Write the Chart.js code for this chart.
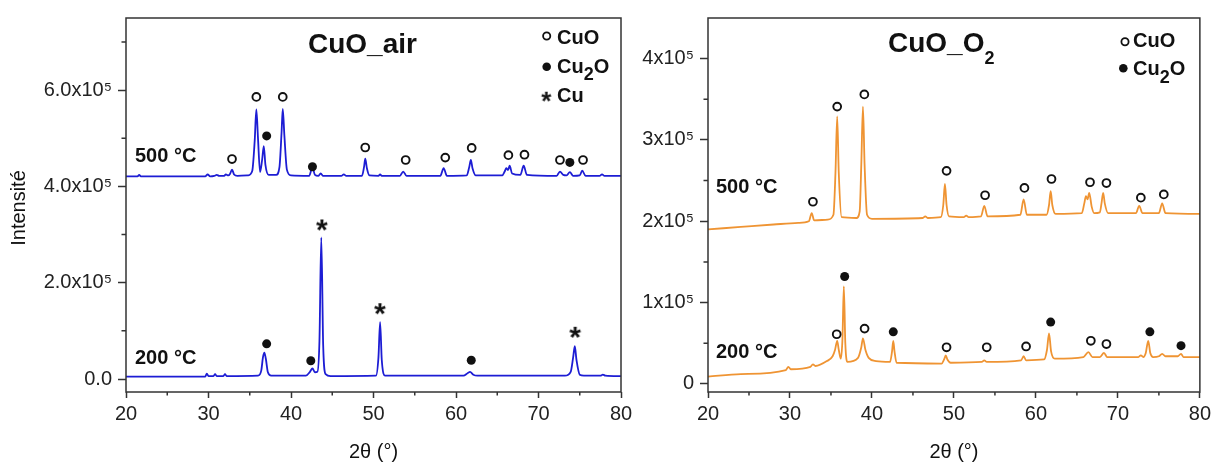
<!DOCTYPE html>
<html><head><meta charset="utf-8">
<script src="https://cdn.jsdelivr.net/npm/chart.js@4/dist/chart.umd.min.js"></script>
<style>
body{margin:0;background:#fff;width:1215px;height:462px;overflow:hidden;position:relative;}
canvas{position:absolute;top:0;}
#c1{left:0;} #c2{left:625px;}
</style></head><body>
<canvas id="c1" width="640" height="462"></canvas>
<canvas id="c2" width="590" height="462"></canvas>
<script>
// ---------- axis ticks ----------
const xTicks = [20, 30, 40, 50, 60, 70, 80];
const xMinor = [25, 35, 45, 55, 65, 75];
const airYTicks = [0, 2e5, 4e5, 6e5];
const airYLabels = ['0.0', '2.0x10⁵', '4.0x10⁵', '6.0x10⁵'];
const airYMinor = [1e5, 3e5, 5e5, 7e5];
const o2YTicks = [0, 1e5, 2e5, 3e5, 4e5];
const o2YLabels = ['0', '1x10⁵', '2x10⁵', '3x10⁵', '4x10⁵'];
const o2YMinor = [0.5e5, 1.5e5, 2.5e5, 3.5e5];

// ---------- CuO_air, 500 °C ----------
const air500 = [[20,4.21e5],[21.4,4.21e5],[21.6,4.24e5],[21.8,4.21e5],[29.6,4.21e5],[29.9,4.25e5],[30.2,4.21e5],
[30.7,4.22e5],[31.0,4.24e5],[31.3,4.22e5],[31.9,4.22e5],[32.1,4.25e5],[32.4,4.23e5],[32.6,4.26e5],[32.85,4.35e5],
[33.1,4.25e5],[33.5,4.22e5],[34.8,4.23e5],[35.3,4.32e5],[35.6,4.95e5],[35.8,5.60e5],[36.0,5.00e5],[36.25,4.30e5],
[36.5,4.55e5],[36.7,4.84e5],[36.9,4.45e5],[37.3,4.24e5],[38.2,4.24e5],[38.6,4.40e5],[38.85,5.10e5],[39.0,5.61e5],
[39.2,5.05e5],[39.5,4.35e5],[40.0,4.23e5],[42.2,4.22e5],[42.6,4.40e5],[42.9,4.24e5],[43.3,4.22e5],[43.6,4.27e5],
[43.9,4.22e5],[46.1,4.22e5],[46.4,4.25e5],[46.7,4.22e5],[48.6,4.22e5],[48.85,4.40e5],[49.0,4.58e5],[49.2,4.38e5],
[49.5,4.23e5],[50.6,4.22e5],[50.8,4.25e5],[51.0,4.22e5],[53.2,4.22e5],[53.6,4.31e5],[54.0,4.22e5],[58.1,4.22e5],
[58.5,4.38e5],[58.9,4.22e5],[61.3,4.23e5],[61.6,4.40e5],[61.8,4.55e5],[62.0,4.38e5],[62.4,4.23e5],[65.6,4.23e5],
[65.9,4.31e5],[66.1,4.38e5],[66.3,4.34e5],[66.5,4.43e5],[66.8,4.27e5],[67.8,4.24e5],[68.2,4.43e5],[68.6,4.24e5],
[72.2,4.22e5],[72.6,4.31e5],[73.0,4.24e5],[73.4,4.23e5],[73.8,4.30e5],[74.2,4.22e5],[75.0,4.23e5],[75.3,4.33e5],
[75.7,4.22e5],[77.4,4.22e5],[77.7,4.25e5],[78.0,4.22e5],[80,4.22e5]];

// ---------- CuO_air, 200 °C ----------
const air200 = [[20,0.05e5],[29.6,0.05e5],[29.8,0.11e5],[30.0,0.06e5],[30.6,0.06e5],[30.8,0.10e5],[31.0,0.06e5],
[31.8,0.06e5],[32.0,0.10e5],[32.2,0.06e5],[36.0,0.07e5],[36.4,0.18e5],[36.6,0.45e5],[36.77,0.55e5],[36.95,0.42e5],
[37.2,0.14e5],[37.6,0.07e5],[41.8,0.07e5],[42.3,0.15e5],[42.6,0.22e5],[42.9,0.14e5],[43.2,0.15e5],[43.45,0.80e5],
[43.67,2.94e5],[43.9,0.70e5],[44.2,0.10e5],[44.8,0.06e5],[50.3,0.07e5],[50.6,0.45e5],[50.8,1.18e5],[51.0,0.40e5],
[51.4,0.07e5],[60.9,0.07e5],[61.4,0.12e5],[61.7,0.15e5],[62.1,0.09e5],[62.6,0.07e5],[73.2,0.07e5],[73.9,0.15e5],
[74.2,0.45e5],[74.4,0.68e5],[74.6,0.40e5],[75.0,0.09e5],[75.5,0.07e5],[77.5,0.07e5],[77.8,0.09e5],[78.1,0.07e5],
[80,0.06e5]];

// ---------- CuO_O2, 500 °C ----------
const o2500 = [[20,1.90e5],[24,1.93e5],[28,1.96e5],[31,1.98e5],[32.3,2.00e5],[32.65,2.10e5],[32.95,2.01e5],
[34.6,2.02e5],[35.3,2.08e5],[35.55,2.60e5],[35.76,3.29e5],[35.95,2.60e5],[36.3,2.05e5],[38.1,2.04e5],[38.5,2.12e5],
[38.7,2.70e5],[38.9,3.41e5],[39.1,2.70e5],[39.4,2.08e5],[40,2.03e5],[46.2,2.04e5],[46.5,2.06e5],[46.8,2.04e5],
[48.4,2.05e5],[48.7,2.20e5],[48.9,2.46e5],[49.1,2.20e5],[49.4,2.06e5],[51.2,2.05e5],[51.5,2.07e5],[51.8,2.05e5],
[53.3,2.06e5],[53.7,2.19e5],[54.1,2.06e5],[58.1,2.08e5],[58.5,2.27e5],[58.9,2.08e5],[61.3,2.08e5],[61.6,2.20e5],
[61.8,2.37e5],[62.0,2.20e5],[62.4,2.09e5],[65.6,2.10e5],[65.9,2.22e5],[66.1,2.31e5],[66.3,2.27e5],[66.5,2.35e5],
[66.8,2.18e5],[67.1,2.10e5],[67.8,2.11e5],[68.0,2.22e5],[68.2,2.35e5],[68.4,2.22e5],[68.8,2.10e5],[72.2,2.10e5],
[72.6,2.19e5],[73.0,2.10e5],[75.0,2.10e5],[75.4,2.22e5],[75.8,2.10e5],[80,2.09e5]];

// ---------- CuO_O2, 200 °C ----------
const o2200 = [[20,0.09e5],[24,0.12e5],[29.5,0.17e5],[29.8,0.21e5],[30.1,0.18e5],[32.5,0.21e5],[32.8,0.24e5],
[33.1,0.22e5],[34.5,0.28e5],[35.2,0.34e5],[35.5,0.42e5],[35.76,0.53e5],[35.95,0.42e5],[36.2,0.31e5],[36.4,0.55e5],
[36.57,1.20e5],[36.75,0.50e5],[37.0,0.27e5],[38.3,0.32e5],[38.7,0.45e5],[38.9,0.56e5],[39.2,0.42e5],[39.6,0.32e5],
[40.5,0.28e5],[42.2,0.27e5],[42.45,0.40e5],[42.6,0.53e5],[42.75,0.40e5],[43.0,0.26e5],[48.5,0.25e5],[48.8,0.30e5],
[49.0,0.35e5],[49.2,0.30e5],[49.6,0.26e5],[53.4,0.27e5],[53.7,0.29e5],[54.0,0.27e5],[58.2,0.29e5],[58.5,0.34e5],
[58.8,0.29e5],[61.0,0.30e5],[61.35,0.42e5],[61.6,0.62e5],[61.85,0.40e5],[62.3,0.31e5],[65.8,0.33e5],[66.4,0.39e5],
[66.9,0.33e5],[67.8,0.33e5],[68.3,0.38e5],[68.7,0.33e5],[72.5,0.33e5],[72.8,0.35e5],[73.1,0.33e5],[73.4,0.38e5],
[73.7,0.53e5],[73.95,0.38e5],[74.3,0.33e5],[75.0,0.34e5],[75.4,0.37e5],[75.8,0.34e5],[77.3,0.34e5],[77.7,0.37e5],
[78.0,0.33e5],[80,0.33e5]];

// ---------- phase markers ----------
const airCuO = [[32.85,4.57e5],[35.8,5.86e5],[39.0,5.86e5],[49.0,4.81e5],[53.9,4.55e5],[58.7,4.60e5],[61.9,4.80e5],
[66.35,4.65e5],[68.3,4.66e5],[72.6,4.55e5],[75.4,4.55e5]];
const airCu2O = [[37.05,5.05e5],[42.6,4.41e5],[73.8,4.50e5],[37.05,0.73e5],[42.4,0.38e5],[61.85,0.39e5]];
const airCu = [[43.76,3.19e5],[50.8,1.45e5],[74.46,0.96e5]];
const o2CuO = [[32.8,2.24e5],[35.76,3.41e5],[39.07,3.56e5],[49.1,2.62e5],[53.8,2.32e5],[58.6,2.41e5],[61.9,2.52e5],
[66.6,2.48e5],[68.6,2.47e5],[72.8,2.29e5],[75.6,2.33e5],
[35.7,0.61e5],[39.1,0.68e5],[49.1,0.45e5],[54.0,0.45e5],[58.8,0.46e5],[66.7,0.53e5],[68.6,0.49e5]];
const o2Cu2O = [[36.67,1.32e5],[42.6,0.64e5],[61.8,0.76e5],[73.9,0.64e5],[77.7,0.47e5]];

// ---------- rendering ----------
const FONT = "'Liberation Sans', Arial, sans-serif";
const INK = '#222';
Chart.defaults.font.family = FONT;

const toPts = a => a.map(p => ({x: p[0], y: p[1]}));

function starImage(size) {
  const c = document.createElement('canvas');
  c.width = 20; c.height = 20;
  const g = c.getContext('2d');
  g.font = 'bold ' + size + 'px ' + FONT;
  g.fillStyle = '#111';
  const m = g.measureText('*');
  const w = m.actualBoundingBoxLeft + m.actualBoundingBoxRight;
  const h = m.actualBoundingBoxAscent + m.actualBoundingBoxDescent;
  g.textBaseline = 'alphabetic';
  g.fillText('*', 10 - w / 2 + m.actualBoundingBoxLeft, 10 - h / 2 + m.actualBoundingBoxAscent);
  return c;
}

function drawParts(ctx, parts, x, y) {
  let cx = x;
  for (const p of parts) {
    ctx.font = p.font + ' ' + FONT;
    ctx.fillText(p.t, cx, y + (p.dy || 0));
    cx += ctx.measureText(p.t).width;
  }
}

function decoPlugin(cfg) {
  return {
    id: 'deco' + cfg.name,
    afterDatasetsDraw(chart) {
      const ctx = chart.ctx, ca = chart.chartArea;
      const xs = chart.scales.x, ys = chart.scales.y;
      ctx.save();
      ctx.strokeStyle = '#333'; ctx.lineWidth = 1.5;
      ctx.strokeRect(ca.left, ca.top, ca.right - ca.left, ca.bottom - ca.top);
      ctx.beginPath();
      for (const v of xMinor) {
        const px = xs.getPixelForValue(v);
        ctx.moveTo(px, ca.bottom); ctx.lineTo(px, ca.bottom + 3.5);
      }
      for (const v of cfg.yMinor) {
        const py = ys.getPixelForValue(v);
        ctx.moveTo(ca.left, py); ctx.lineTo(ca.left - 4.5, py);
      }
      ctx.stroke();
      ctx.fillStyle = '#111';
      ctx.textAlign = 'left'; ctx.textBaseline = 'alphabetic';
      for (const t of cfg.texts) drawParts(ctx, t.parts, t.x, t.y);
      // legend markers
      for (const m of cfg.legend) {
        if (m.type === 'open') {
          ctx.beginPath(); ctx.arc(m.x, m.y, 3.6, 0, Math.PI * 2);
          ctx.lineWidth = 1.8; ctx.strokeStyle = '#111'; ctx.stroke();
        } else if (m.type === 'fill') {
          ctx.beginPath(); ctx.arc(m.x, m.y, 4.3, 0, Math.PI * 2); ctx.fill();
        } else {
          const img = starImage(26);
          ctx.drawImage(img, m.x - 10, m.y - 10);
        }
      }
      // axis titles
      ctx.font = '20px ' + FONT;
      ctx.textAlign = 'center';
      ctx.fillText('2θ (°)', (ca.left + ca.right) / 2, 458);
      if (cfg.yTitle) {
        ctx.translate(19, 208); ctx.rotate(-Math.PI / 2);
        ctx.textBaseline = 'middle';
        ctx.fillText(cfg.yTitle, 0, 0);
      }
      ctx.restore();
    }
  };
}

function makeChart(id, cfg) {
  const datasets = [];
  for (const s of cfg.lines) datasets.push({
    data: toPts(s), showLine: true, borderColor: cfg.color, borderWidth: 1.8,
    pointRadius: 0, cubicInterpolationMode: 'monotone', order: 2
  });
  datasets.push({data: toPts(cfg.open), pointStyle: 'circle', pointRadius: 3.9,
    pointBorderWidth: 1.9, pointBorderColor: '#111', pointBackgroundColor: '#fff', showLine: false, order: 1});
  datasets.push({data: toPts(cfg.fill), pointStyle: 'circle', pointRadius: 4.5,
    pointBorderWidth: 0, pointBorderColor: '#111', pointBackgroundColor: '#111', showLine: false, order: 1});
  if (cfg.star) datasets.push({data: toPts(cfg.star), pointStyle: starImage(30), pointRadius: 8,
    showLine: false, order: 1});
  return new Chart(document.getElementById(id), {
    type: 'scatter',
    data: {datasets},
    options: {
      responsive: false, animation: false, events: [],
      layout: {padding: {left: 0, top: cfg.top, right: cfg.right, bottom: 0}},
      plugins: {legend: {display: false}, tooltip: {enabled: false}},
      scales: {
        x: {
          type: 'linear', position: 'bottom', min: 20, max: 80,
          afterBuildTicks: s => { s.ticks = xTicks.map(v => ({value: v})); },
          afterFit: s => { s.height = 70; },
          grid: {drawOnChartArea: false, drawTicks: true, tickLength: 6, tickWidth: 1.5, tickColor: '#333'},
          border: {display: false},
          ticks: {color: INK, font: {size: 20, family: FONT}, padding: 4, maxRotation: 0, autoSkip: false,
            callback: v => String(v)}
        },
        y: {
          type: 'linear', position: 'left', min: cfg.ymin, max: cfg.ymax,
          afterBuildTicks: s => { s.ticks = cfg.yTicks.map(v => ({value: v})); },
          afterFit: s => { s.width = cfg.yWidth; },
          grid: {drawOnChartArea: false, drawTicks: true, tickLength: 8, tickWidth: 1.5, tickColor: '#333'},
          border: {display: false},
          ticks: {color: INK, font: {size: 20, family: FONT}, padding: 6, autoSkip: false,
            callback: (v, i) => cfg.yLabels[i]}
        }
      }
    },
    plugins: [decoPlugin(cfg)]
  });
}

makeChart('c1', {
  name: 'air', color: '#1d1dd4', lines: [air500, air200], open: airCuO, fill: airCu2O, star: airCu,
  ymin: -27000, ymax: 750000, yTicks: airYTicks, yLabels: airYLabels, yMinor: airYMinor,
  yWidth: 126, top: 15, right: 19, yTitle: 'Intensité',
  texts: [
    {x: 308, y: 53, parts: [{t: 'CuO_air', font: 'bold 28px'}]},
    {x: 557, y: 44, parts: [{t: 'CuO', font: 'bold 20px'}]},
    {x: 557, y: 73, parts: [{t: 'Cu', font: 'bold 20px'}, {t: '2', font: 'bold 18px', dy: 7}, {t: 'O', font: 'bold 20px'}]},
    {x: 557, y: 102, parts: [{t: 'Cu', font: 'bold 20px'}]},
    {x: 135, y: 162, parts: [{t: '500 °C', font: 'bold 20px'}]},
    {x: 135, y: 364, parts: [{t: '200 °C', font: 'bold 20px'}]}
  ],
  legend: [{type: 'open', x: 546.7, y: 36}, {type: 'fill', x: 546.7, y: 66.7}, {type: 'star', x: 546.7, y: 96.7}]
});

makeChart('c2', {
  name: 'o2', color: '#ef9433', lines: [o2500, o2200], open: o2CuO, fill: o2Cu2O, star: null,
  ymin: -10000, ymax: 450000, yTicks: o2YTicks, yLabels: o2YLabels, yMinor: o2YMinor,
  yWidth: 83, top: 14, right: 12, yTitle: null,
  texts: [
    {x: 263, y: 52, parts: [{t: 'CuO_O', font: 'bold 28px'}, {t: '2', font: 'bold 18px', dy: 12}]},
    {x: 508, y: 47, parts: [{t: 'CuO', font: 'bold 20px'}]},
    {x: 508, y: 75, parts: [{t: 'Cu', font: 'bold 20px'}, {t: '2', font: 'bold 18px', dy: 8}, {t: 'O', font: 'bold 20px'}]},
    {x: 91, y: 193, parts: [{t: '500 °C', font: 'bold 20px'}]},
    {x: 91, y: 358, parts: [{t: '200 °C', font: 'bold 20px'}]}
  ],
  legend: [{type: 'open', x: 500, y: 41.7}, {type: 'fill', x: 498.3, y: 68.3}]
});
</script>
</body></html>
